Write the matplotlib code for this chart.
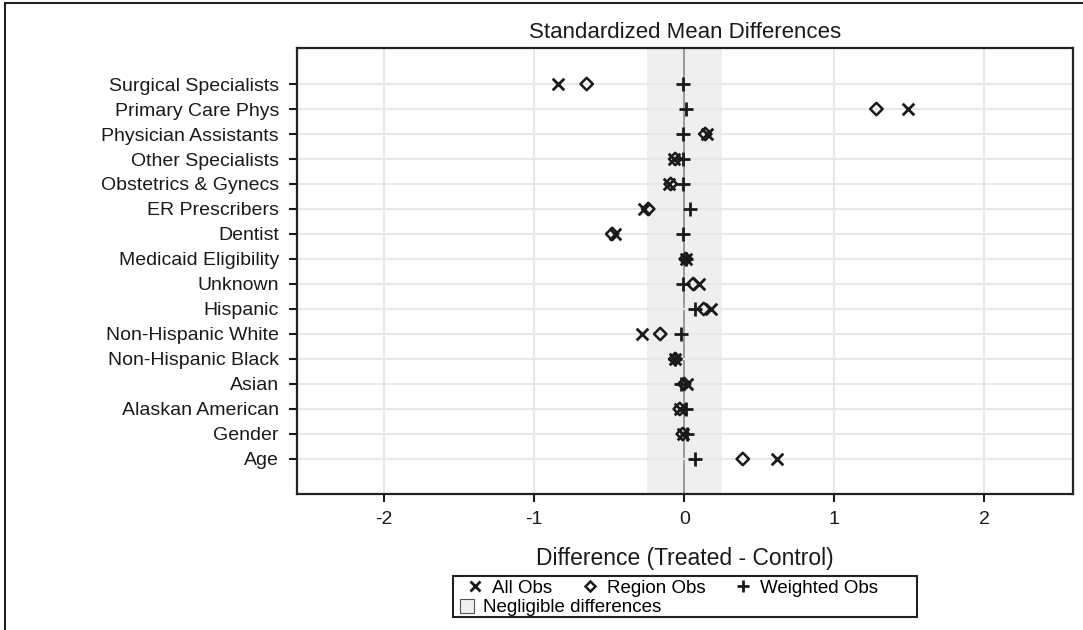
import numpy as np
import matplotlib.pyplot as plt
from matplotlib.patches import Patch, Rectangle
from matplotlib.lines import Line2D

plt.rcParams['font.family'] = ['Liberation Sans', 'DejaVu Sans']
plt.rcParams['axes.unicode_minus'] = False

# covariates, top to bottom
labels = ["Surgical Specialists", "Primary Care Phys", "Physician Assistants",
          "Other Specialists", "Obstetrics & Gynecs", "ER Prescribers", "Dentist",
          "Medicaid Eligibility", "Unknown", "Hispanic", "Non-Hispanic White",
          "Non-Hispanic Black", "Asian", "Alaskan American", "Gender", "Age"]

# standardized mean differences
all_obs = [-0.84, 1.49, 0.15, -0.07, -0.10, -0.27, -0.46, 0.01, 0.10, 0.18,
           -0.28, -0.06, 0.02, -0.03, -0.01, 0.62]
region_obs = [-0.65, 1.28, 0.14, -0.06, -0.09, -0.24, -0.48, 0.01, 0.06, 0.13,
              -0.16, -0.06, 0.00, -0.03, -0.01, 0.39]
weighted_obs = [-0.005, 0.01, -0.01, -0.01, -0.01, 0.04, -0.01, 0.01, -0.01, 0.07,
                -0.02, -0.06, -0.02, 0.01, 0.02, 0.07]

threshold = 0.25
ink = "#1a1a1a"

fig = plt.figure(figsize=(10.83, 6.30), dpi=100)
ax = fig.add_axes([0.2742, 0.2159, 0.7166, 0.7079])

ypos = np.arange(len(labels))

ax.axvspan(-threshold, threshold, color="#efefef", zorder=0, lw=0)
for t in [-2, -1, 1, 2]:
    ax.axvline(t, color="#e8e8e8", lw=1.5, zorder=1)
ax.axvline(0, color="#8c8c8c", lw=1.2, zorder=1)
for y in ypos:
    ax.axhline(y, color="#e8e8e8", lw=1.5, zorder=1)

ax.scatter(all_obs, ypos, marker="x", s=70, color=ink, linewidths=2, zorder=3)
ax.scatter(region_obs, ypos, marker="D", s=40, facecolors="none", edgecolors=ink,
           linewidths=1.8, zorder=3)
ax.scatter(weighted_obs, ypos, marker="+", s=90, color=ink, linewidths=2, zorder=3)

ax.set_xlim(-2.58, 2.59)
ax.set_ylim(len(labels) - 1 + 1.4, -1.44)
ax.set_xticks([-2, -1, 0, 1, 2])
ax.set_yticks(ypos)
ax.set_yticklabels(labels)
ax.tick_params(axis="both", labelsize=14, colors=ink, length=6, width=1.5)
ax.tick_params(axis="y", pad=7)
ax.tick_params(axis="x", pad=6)
for sp in ax.spines.values():
    sp.set_linewidth(1.6)
    sp.set_color("#222222")

ax.set_title("Standardized Mean Differences", fontsize=16, color=ink, pad=7)
ax.set_xlabel("Difference (Treated - Control)", fontsize=16.5, color=ink, labelpad=14)

# legend: markers on one row, shaded area on a second row, one box around both
h_mark = [Line2D([], [], marker="x", ls="none", color=ink, ms=7, mew=2),
          Line2D([], [], marker="D", ls="none", mfc="none", mec=ink, ms=5.5, mew=1.8),
          Line2D([], [], marker="+", ls="none", color=ink, ms=8, mew=2)]
leg1 = fig.legend(h_mark, ["All Obs", "Region Obs", "Weighted Obs"], ncol=3,
                  frameon=False, fontsize=13.5, loc="center left",
                  bbox_to_anchor=(0.432, 0.066),
                  handlelength=0.8, handletextpad=0.5, columnspacing=1.6,
                  borderaxespad=0, borderpad=0)

leg2 = fig.legend([Patch(facecolor="#efefef", edgecolor="#555555", lw=0.8)],
                  ["Negligible differences"], frameon=False, fontsize=13.5,
                  loc="center left", bbox_to_anchor=(0.4245, 0.0355),
                  handlelength=0.75, handleheight=0.75, handletextpad=0.5,
                  borderaxespad=0, borderpad=0)

fig.patches.append(Rectangle((0.4183, 0.0206), 0.4284, 0.0651, transform=fig.transFigure,
                             fill=False, edgecolor="#222222", lw=1.5))

# outer frame of the graph region
fig.patches.append(Rectangle((0.005, -0.05), 1.2, 1.045, transform=fig.transFigure,
                             fill=False, edgecolor="#222222", lw=1.5))

fig.savefig("out.png", dpi=100)
